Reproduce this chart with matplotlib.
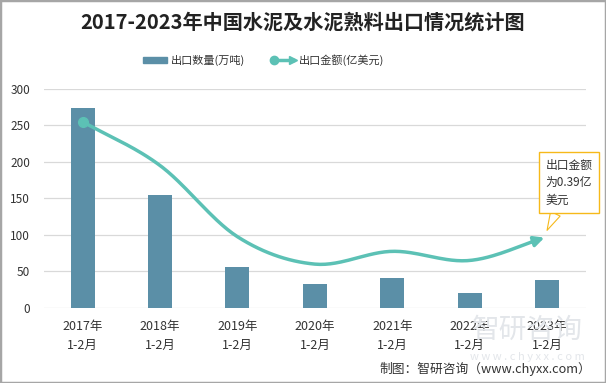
import matplotlib.pyplot as plt
import numpy as np
from matplotlib.lines import Line2D
from matplotlib.patches import Patch, Rectangle
from matplotlib.legend_handler import HandlerBase

plt.rcParams['font.family'] = ['Noto Sans CJK SC', 'DejaVu Sans']
plt.rcParams['axes.unicode_minus'] = False

years = ['2017年\n1-2月', '2018年\n1-2月', '2019年\n1-2月', '2020年\n1-2月',
         '2021年\n1-2月', '2022年\n1-2月', '2023年\n1-2月']
qty = [274, 155, 56, 33, 41, 21, 38]          # 出口数量(万吨)
amount = [1.02, 0.78, 0.39, 0.24, 0.31, 0.26, 0.39]  # 出口金额(亿美元)

bar_c = '#5b8fa7'
line_c = '#5cc1b5'
gold = '#f6b91a'


def smooth(xs, ys, n=30):
    # catmull-rom style smoothing, just for drawing the curve
    xs = np.asarray(xs, float)
    ys = np.asarray(ys, float)
    px = np.concatenate([[2 * xs[0] - xs[1]], xs, [2 * xs[-1] - xs[-2]]])
    py = np.concatenate([[2 * ys[0] - ys[1]], ys, [2 * ys[-1] - ys[-2]]])
    ox, oy = [], []
    for i in range(1, len(px) - 2):
        t = np.linspace(0, 1, n, endpoint=False)
        for p, out in ((px, ox), (py, oy)):
            p0, p1, p2, p3 = p[i - 1], p[i], p[i + 1], p[i + 2]
            out.extend(0.5 * (2 * p1 + (-p0 + p2) * t + (2 * p0 - 5 * p1 + 4 * p2 - p3) * t ** 2
                              + (-p0 + 3 * p1 - 3 * p2 + p3) * t ** 3))
    ox.append(xs[-1])
    oy.append(ys[-1])
    return np.array(ox), np.array(oy)


class DotArrowHandler(HandlerBase):
    # legend handle: dot - line - arrow
    def create_artists(self, legend, orig, xd, yd, w, h, fontsize, trans):
        yc = h / 2 - yd
        ln = Line2D([-xd + 2, -xd + w - 2], [yc, yc], color=line_c, lw=2.5, transform=trans)
        dot = Line2D([-xd + 2], [yc], marker='o', ms=6, color=line_c, transform=trans)
        tip = Line2D([-xd + w - 2], [yc], marker='>', ms=6, color=line_c, transform=trans)
        return [ln, dot, tip]


fig = plt.figure(figsize=(6.06, 3.83), dpi=100)
ax = fig.add_axes([0.0726, 0.196, 0.894, 0.572])
x = np.arange(len(years))
ax.bar(x, qty, width=0.31, color=bar_c, zorder=2)
ax.set_xlim(-0.5, len(years) - 0.5)
ax.set_ylim(0, 300)
ax.set_yticks(range(0, 301, 50))
ax.grid(axis='y', color='#d9d9d9', lw=0.9, zorder=0)
for s in ax.spines.values():
    s.set_visible(False)
ax.tick_params(axis='both', length=0, labelsize=8.5, colors='#333333')
ax.tick_params(axis='y', pad=10)
ax.tick_params(axis='x', pad=9)
ax.set_xticks(x)
ax.set_xticklabels(years, fontsize=9, linespacing=1.6)

ax2 = ax.twinx()
ax2.set_ylim(0, 1.2)
ax2.axis('off')
sx, sy = smooth(x, amount)
ax2.plot(sx[:-6], sy[:-6], color=line_c, lw=2.5, zorder=3, solid_capstyle='round')
ax2.annotate('', xy=(sx[-1], sy[-1]), xytext=(sx[-8], sy[-8]),
             arrowprops=dict(arrowstyle='-|>,head_length=0.6,head_width=0.3', color=line_c, lw=2.5))
ax2.plot(x[0], amount[0], 'o', color=line_c, ms=7, zorder=4)

ax2.annotate('出口金额\n为0.39亿\n美元', xy=(x[-1], amount[-1] + 0.035), xytext=(-1, 17),
             textcoords='offset points', fontsize=8.5, color='#333333', ha='left', va='bottom',
             linespacing=1.45,
             bbox=dict(boxstyle='square,pad=0.55', fc='white', ec=gold, lw=1),
             arrowprops=dict(arrowstyle='wedge,tail_width=0.9,shrink_factor=0.5', fc='white',
                             ec=gold, lw=0.8, relpos=(0.28, 0), shrinkA=0, shrinkB=0))

fig.text(0.5, 0.942, '2017-2023年中国水泥及水泥熟料出口情况统计图', ha='center', va='center',
         fontsize=14.5, fontweight='bold', color='#222222')
handles = [Patch(color=bar_c), Line2D([0], [0])]
fig.legend(handles, ['出口数量(万吨)', '出口金额(亿美元)'], loc='center', bbox_to_anchor=(0.435, 0.843),
           ncol=2, frameon=False, fontsize=8, handlelength=2.2, handleheight=0.5,
           columnspacing=2.4, handletextpad=0.3, labelcolor='#333333',
           handler_map={Line2D: DotArrowHandler()})

# faint watermark
fig.text(0.87, 0.138, '智研咨询', ha='center', va='center', fontsize=20, color='#e3e6ea', zorder=0)
fig.text(0.87, 0.068, 'w w w . c h y x x . c o m', ha='center', va='center', fontsize=8,
         color='#e3e6ea', zorder=0)
fig.text(0.975, 0.037, '制图：智研咨询（www.chyxx.com）', ha='right', va='center', fontsize=9.2,
         color='#333333')
fig.patches.append(Rectangle((0, 0), 1, 1, transform=fig.transFigure, fill=False,
                             ec='#a6a6a6', lw=2.5))

fig.savefig('out.png', dpi=100)
